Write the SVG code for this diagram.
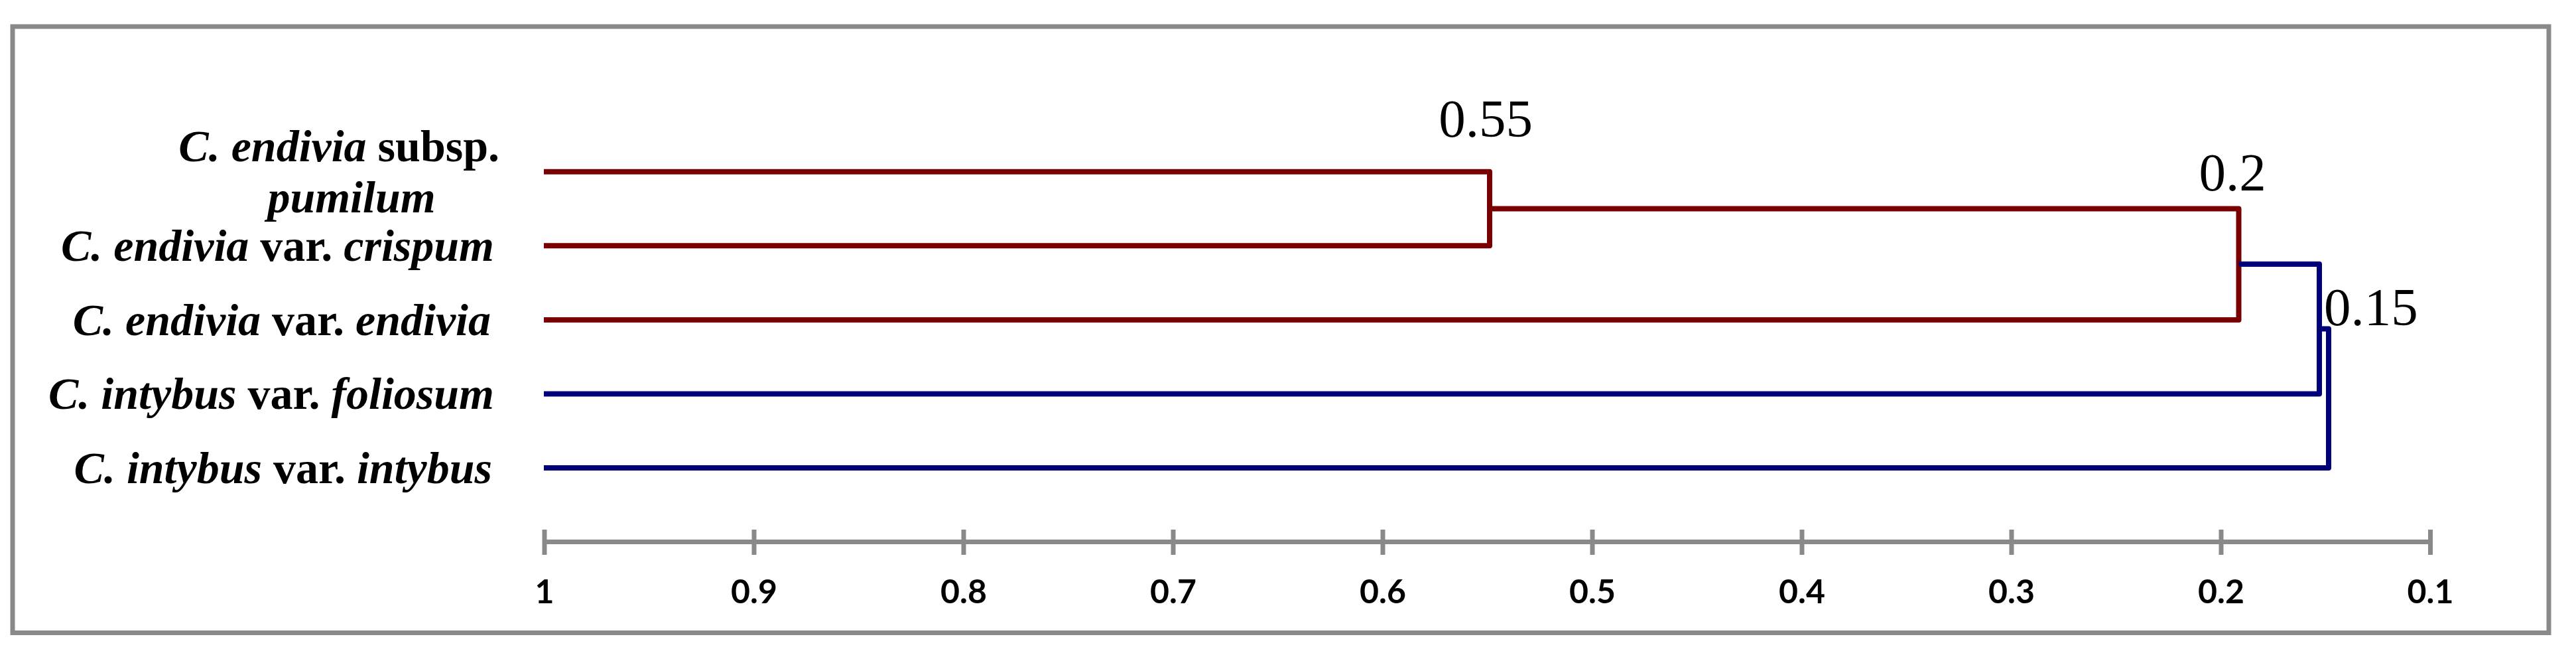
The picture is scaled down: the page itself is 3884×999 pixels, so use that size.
<svg xmlns="http://www.w3.org/2000/svg" width="3884" height="999" viewBox="0 0 3884 999">
<style>
.frame{fill:none;stroke:#898989;stroke-width:7}
.axis{fill:none;stroke:#898989;stroke-width:7}
.red{fill:none;stroke:#790000;stroke-width:8;stroke-linejoin:round}
.blue{fill:none;stroke:#000079;stroke-width:8;stroke-linejoin:round}
.lab{font-family:"Liberation Serif","Times New Roman",serif;font-weight:bold;font-size:68px;fill:#000;text-anchor:end}
.it{font-style:italic}
.val{font-family:"Liberation Serif","Times New Roman",serif;font-size:81px;fill:#000}
.tick{font-family:Lato,"Liberation Sans",sans-serif;font-weight:bold;font-size:50px;fill:#000;text-anchor:middle}
</style>
<rect width="3884" height="999" fill="#fff"/>
<rect class="frame" x="19" y="40" width="3824" height="913.5"/>
<g id="labels">
<g id="leaf-pumilum">
<text class="lab" x="753" y="243"><tspan class="it">C. endivia</tspan> subsp.</text>
<text class="lab it" x="530" y="320" style="text-anchor:middle">pumilum</text>
</g>
<g id="leaf-crispum"><text class="lab" x="745" y="393"><tspan class="it">C. endivia</tspan> var. <tspan class="it">crispum</tspan></text></g>
<g id="leaf-endivia"><text class="lab" x="740" y="505"><tspan class="it">C. endivia</tspan> var. <tspan class="it">endivia</tspan></text></g>
<g id="leaf-foliosum"><text class="lab" x="745" y="616"><tspan class="it">C. intybus</tspan> var. <tspan class="it">foliosum</tspan></text></g>
<g id="leaf-intybus"><text class="lab" x="742" y="728"><tspan class="it">C. intybus</tspan> var. <tspan class="it">intybus</tspan></text></g>
</g>
<g id="connectors">
<path class="red" d="M820 258.7 H2246 V370.3 H820"/>
<path class="red" d="M2246 314.5 H3375.5 V481.9 H820"/>
<path class="blue" d="M3375.5 398 H3497 V593.5 H820"/>
<path class="blue" d="M3497 495.5 H3511 V705 H820"/>
</g>
<g id="values">
<text class="val" x="2240" y="206" text-anchor="middle">0.55</text>
<text class="val" x="3366" y="287" text-anchor="middle">0.2</text>
<text class="val" x="3504" y="490">0.15</text>
</g>
<g id="axis">
<path class="axis" d="M821 816.5 H3664.5"/>
<path class="axis" d="M821 798 V836 M1137 798 V836 M1453 798 V836 M1769 798 V836 M2085 798 V836 M2401 798 V836 M2717 798 V836 M3033 798 V836 M3349 798 V836 M3664.5 798 V836"/>
<text class="tick" x="821" y="909">1</text>
<text class="tick" x="1137" y="909">0.9</text>
<text class="tick" x="1453" y="909">0.8</text>
<text class="tick" x="1769" y="909">0.7</text>
<text class="tick" x="2085" y="909">0.6</text>
<text class="tick" x="2401" y="909">0.5</text>
<text class="tick" x="2717" y="909">0.4</text>
<text class="tick" x="3033" y="909">0.3</text>
<text class="tick" x="3349" y="909">0.2</text>
<text class="tick" x="3664.5" y="909">0.1</text>
</g>
</svg>
